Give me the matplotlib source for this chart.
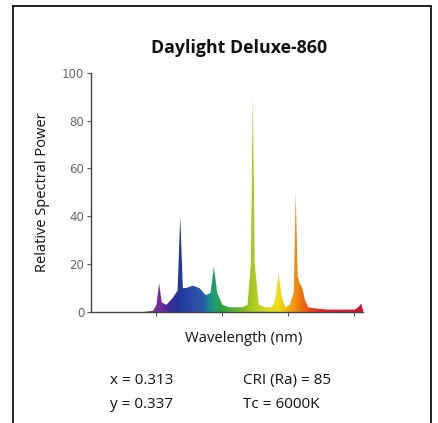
import matplotlib
matplotlib.use("Agg")
import matplotlib.pyplot as plt
import numpy as np
from matplotlib.colors import LinearSegmentedColormap
from matplotlib.lines import Line2D
from matplotlib.patches import Polygon

# ---- data ----
wavelength = [380, 395, 400, 404, 408, 415, 425, 432, 436, 440, 445, 455, 465,
              475, 482, 487, 492, 500, 510, 520, 530, 538, 543, 546, 549, 555,
              565, 575, 580, 585, 590, 595, 602, 608, 611, 614, 617, 621, 625,
              630, 640, 660, 680, 700, 706, 710, 713, 715]
power = [0, 0.5, 3, 12, 4, 3, 6, 9, 40, 10, 10, 11, 10,
         7, 8, 19, 8, 3, 2, 2, 2, 3, 20, 90, 20, 3,
         2, 2, 5, 16, 6, 2, 3, 8, 50, 15, 12, 10, 5,
         2, 1.5, 1, 1, 1, 2, 3.5, 1, 0]
y_ticks = [0, 20, 40, 60, 80, 100]
x_ticks = [400, 500, 600, 700]

title = "Daylight Deluxe-860"
info_left = ["x = 0.313", "y = 0.337"]
info_right = ["CRI (Ra) = 85", "Tc = 6000K"]

# wavelength -> colour anchors
spec_wl = [380, 404, 420, 436, 455, 470, 480, 487, 500, 520, 545, 565, 585, 600, 611, 630, 650, 720]
spec_col = ["#5a2a80", "#7a2aa0", "#3a2a90", "#223a9a", "#2a4aa8", "#2a5aa8", "#1a8a90",
            "#1aa070", "#30a040", "#60b030", "#a8c820", "#d0d820", "#f0e010", "#f0b010",
            "#f09010", "#f05010", "#e82020", "#d01030"]

W, H = 438, 423
fig = plt.figure(figsize=(W / 100, H / 100), dpi=100)
plt.rcParams['font.family'] = ['Open Sans', 'DejaVu Sans']

x0, x1 = 300, 713
ax = fig.add_axes([90.5 / W, 1 - 312 / H, (363 - 90.5) / W, (312 - 72.7) / H])
ax.set_xlim(x0, x1)
ax.set_ylim(0, 100)

lo, hi = spec_wl[0], spec_wl[-1]
cmap = LinearSegmentedColormap.from_list(
    "spec", [((w - lo) / (hi - lo), c) for w, c in zip(spec_wl, spec_col)])
grad = np.linspace(lo, hi, 400).reshape(1, -1)
im = ax.imshow(grad, cmap=cmap, vmin=lo, vmax=hi, aspect="auto",
               extent=[lo, hi, 0, 100], origin="lower", zorder=2,
               interpolation="bilinear")
verts = np.column_stack([wavelength, power])
poly = Polygon(verts, closed=True, facecolor="none", edgecolor="none",
               transform=ax.transData)
ax.add_patch(poly)
im.set_clip_path(poly)
ax.set_xlim(x0, x1)
ax.set_ylim(0, 100)

for s in ["top", "right"]:
    ax.spines[s].set_visible(False)
for s in ["left", "bottom"]:
    ax.spines[s].set_color("#444444")
    ax.spines[s].set_linewidth(1.0)
    ax.spines[s].set_zorder(3)
ax.set_yticks(y_ticks)
ax.set_yticklabels([str(v) for v in y_ticks], fontsize=8.5, color="#666666",
                   family="DejaVu Sans")
ax.set_xticks(x_ticks)
ax.set_xticklabels([])
ax.tick_params(axis="both", length=3, width=0.8, color="#555555", pad=1.5)
ax.set_facecolor("none")

fig.text(42.5 / W, 1 - 192 / H, "Relative Spectral Power", rotation=90,
         ha="center", va="center", fontsize=10.5, color="#111111")
fig.text(243.5 / W, 1 - 338 / H, "Wavelength (nm)", ha="center", va="center",
         fontsize=10.7, color="#111111")
fig.text(239 / W, 1 - 48 / H, title, ha="center", va="center",
         fontsize=12.8, fontweight="bold", color="#111111")
for i, (a, b) in enumerate(zip(info_left, info_right)):
    yy = 1 - (380 + 24 * i) / H
    fig.text(110 / W, yy, a, ha="left", va="center", fontsize=11, color="#111111")
    fig.text(243 / W, yy, b, ha="left", va="center", fontsize=11, color="#111111")

# frame (open at bottom)
fx0, fx1, fy0 = 13 / W, 431 / W, 1 - 6 / H
for xs, ys in [([fx0, fx0], [0, fy0]), ([fx1, fx1], [0, fy0]), ([fx0, fx1], [fy0, fy0])]:
    fig.add_artist(Line2D(xs, ys, transform=fig.transFigure, color="#111111", lw=1.3))

fig.savefig("out.png", dpi=100, facecolor="white")
